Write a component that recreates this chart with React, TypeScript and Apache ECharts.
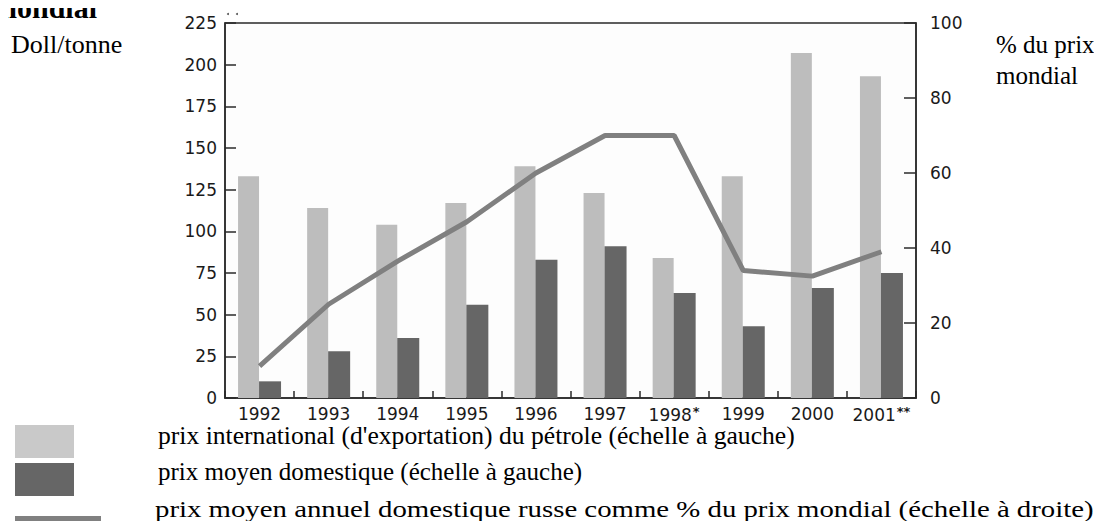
import React, { useEffect, useRef } from "react";
import * as echarts from "echarts";

const categories = ["1992", "1993", "1994", "1995", "1996", "1997", "1998*", "1999", "2000", "2001**"];
const exportPrice = [133, 114, 104, 117, 139, 123, 84, 133, 207, 193];
const domesticPrice = [10, 28, 36, 56, 83, 91, 63, 43, 66, 75];
const domesticPct = [8.5, 25, 36.5, 47, 60, 70, 70, 34, 32.5, 39];

const seriesNames = [
  "prix international (d'exportation) du pétrole (échelle à gauche)",
  "prix moyen domestique (échelle à gauche)",
  "prix moyen annuel domestique russe comme % du prix mondial (échelle à droite)",
];
const leftUnit = "Doll/tonne";
const rightUnit = ["% du prix", "mondial"];
const titleText = "mondial";

const LIGHT = "#bdbdbd";
const DARK = "#666666";
const LINE = "#808080";
const SERIF = "'Liberation Serif', 'Times New Roman', serif";
const SANS = "'DejaVu Sans', sans-serif";

export default function App() {
  const ref = useRef<HTMLDivElement>(null);
  useEffect(() => {
    if (!ref.current) return;
    const chart = echarts.init(ref.current, null, { renderer: "svg" });
    const axisLabel = { color: "#1a1a1a", fontFamily: SANS, fontSize: 17 };
    const serifText = (
      text: string,
      x: number,
      baseline: number,
      size: number,
      weight = "normal",
      scaleX = 1
    ) => ({
      type: "text",
      x,
      y: baseline - 0.34 * size,
      scaleX,
      style: {
        text,
        fontFamily: SERIF,
        fontSize: size,
        fontWeight: weight,
        fill: "#000",
        verticalAlign: "middle",
        align: "left",
      },
    });
    chart.setOption({
      animation: false,
      backgroundColor: "#ffffff",
      grid: {
        left: 225,
        top: 23,
        width: 691,
        height: 375,
        show: true,
        borderColor: "#2a2a2a",
        borderWidth: 1.5,
        backgroundColor: "#fdfdfd",
        containLabel: false,
      },
      xAxis: {
        type: "category",
        data: categories,
        boundaryGap: true,
        axisLine: { show: true, lineStyle: { color: "#2a2a2a", width: 1.5 } },
        axisTick: { show: true, inside: true, length: 7, lineStyle: { color: "#2a2a2a", width: 1.5 } },
        axisLabel: {
          ...axisLabel,
          margin: 7,
          interval: 0,
          formatter: (v: string) => v.replace(/(\*+)/, "{s|$1}"),
          rich: {
            s: { fontFamily: SANS, fontSize: 13, fontWeight: "bold", color: "#1a1a1a", verticalAlign: "top", padding: [0, 0, 6, 1] },
          },
        },
        splitLine: { show: false },
      },
      yAxis: [
        {
          type: "value",
          min: 0,
          max: 225,
          interval: 25,
          position: "left",
          axisLine: { show: true, lineStyle: { color: "#2a2a2a", width: 1.5 } },
          axisTick: { show: true, inside: true, length: 11, lineStyle: { color: "#2a2a2a", width: 1.5 } },
          axisLabel: { ...axisLabel, margin: 8 },
          splitLine: { show: false },
        },
        {
          type: "value",
          min: 0,
          max: 100,
          interval: 20,
          position: "right",
          axisLine: { show: true, lineStyle: { color: "#2a2a2a", width: 1.5 } },
          axisTick: { show: true, inside: true, length: 12, lineStyle: { color: "#2a2a2a", width: 1.5 } },
          axisLabel: { ...axisLabel, margin: 14 },
          splitLine: { show: false },
        },
      ],
      series: [
        {
          name: seriesNames[0],
          type: "bar",
          data: exportPrice,
          barWidth: 21,
          barGap: "0%",
          itemStyle: { color: LIGHT },
          yAxisIndex: 0,
        },
        {
          name: seriesNames[1],
          type: "bar",
          data: domesticPrice,
          barWidth: 22,
          barGap: "0%",
          itemStyle: { color: DARK },
          yAxisIndex: 0,
        },
        {
          name: seriesNames[2],
          type: "line",
          data: domesticPct,
          yAxisIndex: 1,
          showSymbol: false,
          symbol: "none",
          lineStyle: { color: LINE, width: 5 },
          z: 5,
        },
      ],
      graphic: [
        {
          type: "text",
          x: -8,
          y: 22,
          style: {
            text: titleText,
            fontFamily: SERIF,
            fontSize: 30,
            fontWeight: "bold",
            fill: "#000",
            verticalAlign: "bottom",
            align: "left",
          },
        },
        serifText(leftUnit, 11, 53, 26),
        serifText(rightUnit[0], 996, 53, 25),
        serifText(rightUnit[1], 996, 84, 25),
        { type: "circle", shape: { cx: 228, cy: 14, r: 1 }, style: { fill: "#555" } },
        { type: "circle", shape: { cx: 237, cy: 14, r: 1 }, style: { fill: "#555" } },
        { type: "rect", shape: { x: 15, y: 425, width: 59, height: 33 }, style: { fill: "#c9c9c9" } },
        { type: "rect", shape: { x: 15, y: 463, width: 59, height: 33 }, style: { fill: DARK } },
        { type: "rect", shape: { x: 15, y: 516, width: 86, height: 8 }, style: { fill: LINE } },
        serifText(seriesNames[0], 158, 444, 25, "normal", 1.025),
        serifText(seriesNames[1], 158, 480, 25),
        serifText(seriesNames[2], 155, 517, 24, "normal", 1.2),
      ],
    });
    return () => chart.dispose();
  }, []);
  return <div ref={ref} style={{ width: 1102, height: 529, margin: -8 }} />;
}
